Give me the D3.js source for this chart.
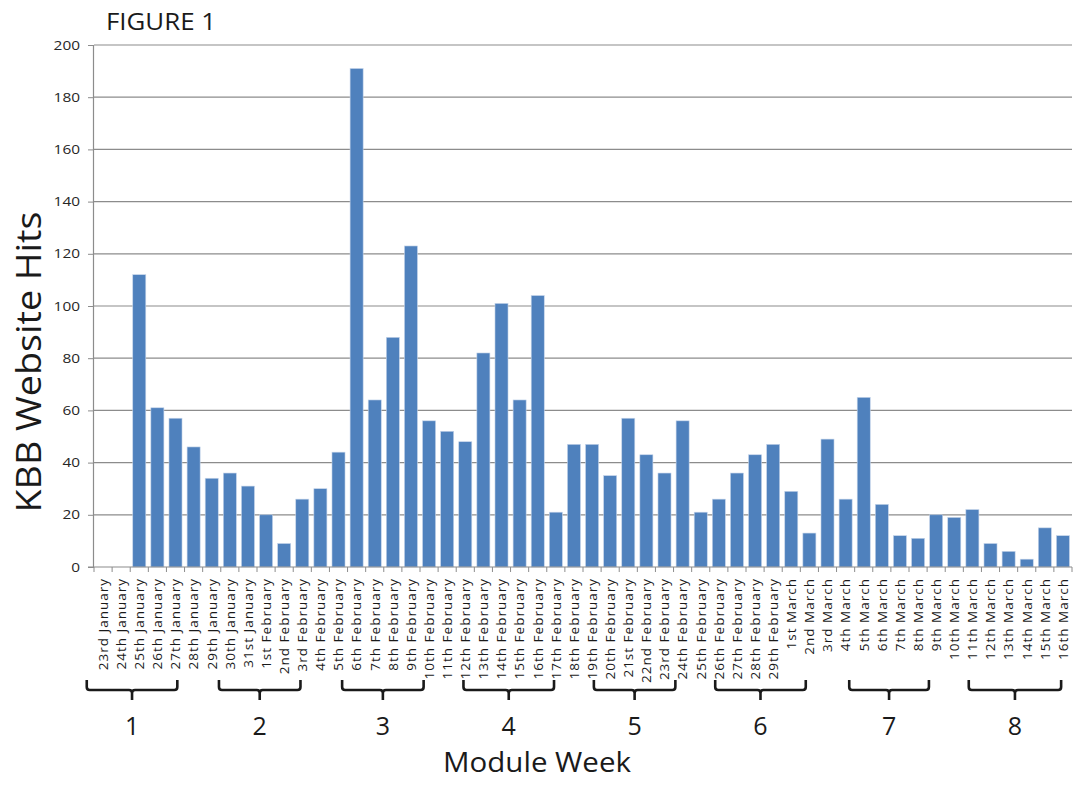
<!DOCTYPE html>
<html>
<head>
<meta charset="utf-8">
<script src="https://cdn.jsdelivr.net/npm/d3@7"></script>
<style>
    body { margin: 0; background: #fff; }
    svg text { font-family: "Open Sans", "DejaVu Sans", sans-serif; fill: #1a1a1a; }
</style>
</head>
<body>
<div id="chart"></div>
<script>
// daily hits, 23rd January to 16th March
var days = [
    "23rd January", "24th January", "25th January", "26th January", "27th January",
    "28th January", "29th January", "30th January", "31st January",
    "1st February", "2nd February", "3rd February", "4th February", "5th February",
    "6th February", "7th February", "8th February", "9th February", "10th February",
    "11th February", "12th February", "13th February", "14th February", "15th February",
    "16th February", "17th February", "18th February", "19th February", "20th February",
    "21st February", "22nd February", "23rd February", "24th February", "25th February",
    "26th February", "27th February", "28th February", "29th February",
    "1st March", "2nd March", "3rd March", "4th March", "5th March", "6th March",
    "7th March", "8th March", "9th March", "10th March", "11th March", "12th March",
    "13th March", "14th March", "15th March", "16th March"
];
var hits = [
    0, 0, 112, 61, 57, 46, 34, 36, 31,
    20, 9, 26, 30, 44, 191, 64, 88, 123, 56, 52, 48, 82, 101, 64, 104, 21, 47, 47,
    35, 57, 43, 36, 56, 21, 26, 36, 43, 47,
    29, 13, 49, 26, 65, 24, 12, 11, 20, 19, 22, 9, 6, 3, 15, 12
];
var yTicks = [0, 20, 40, 60, 80, 100, 120, 140, 160, 180, 200];

// module week brackets, spans given in day-index units as drawn
var weeks = ["1", "2", "3", "4", "5", "6", "7", "8"];
var weekFrom = [-0.9, 6.4, 13.2, 19.9, 27.1, 33.8, 41.2, 47.8];
var weekTo = [4.1, 10.9, 17.7, 24.9, 31.6, 38.8, 45.6, 52.9];

var width = 1076, height = 787;
var plotLeft = 94, plotRight = 1072, plotTop = 45, plotBottom = 567;

var svg = d3.select("#chart")
            .append("svg")
            .attr("width", width)
            .attr("height", height);

var x = d3.scaleBand()
          .domain(days)
          .range([plotLeft, plotRight])
          .paddingInner(0.28)
          .paddingOuter(0.14);
var step = x.step();

// day index -> pixel (centre of that day's slot)
var xi = d3.scaleLinear()
           .domain([0, days.length - 1])
           .range([plotLeft + step / 2, plotLeft + step / 2 + step * (days.length - 1)]);

var y = d3.scaleLinear()
          .domain([0, 200])
          .range([plotBottom, plotTop]);

// gridlines
svg.append("g")
   .selectAll("line")
   .data(yTicks.filter(d => d > 0))
   .join("line")
   .attr("x1", plotLeft)
   .attr("x2", plotRight)
   .attr("y1", d => y(d))
   .attr("y2", d => y(d))
   .attr("stroke", "#8c8c8c")
   .attr("stroke-width", 1.2);

// y axis
var yAxis = svg.append("g")
               .attr("transform", `translate(${plotLeft - 1},0)`)
               .call(d3.axisLeft(y).tickValues(yTicks).tickSize(5).tickPadding(8));
yAxis.select(".domain").attr("stroke", "#8c8c8c").attr("stroke-width", 1.2);
yAxis.selectAll(".tick line").attr("stroke", "#8c8c8c");
yAxis.selectAll(".tick text")
     .style("font-size", "13px")
     .style("fill", "#262626")
     .attr("textLength", function(d) { return String(d).length * 8.8; })
     .attr("lengthAdjust", "spacingAndGlyphs");

// bars
svg.append("g")
   .selectAll("rect")
   .data(hits)
   .join("rect")
   .attr("x", (d, i) => x(days[i]))
   .attr("width", x.bandwidth())
   .attr("y", d => y(d))
   .attr("height", d => y(0) - y(d))
   .attr("fill", "#4f81bd")
   .attr("stroke", "#c6d5ea")
   .attr("stroke-width", 0.6);

// x axis line and category ticks
svg.append("line")
   .attr("x1", plotLeft - 6)
   .attr("x2", plotRight)
   .attr("y1", plotBottom)
   .attr("y2", plotBottom)
   .attr("stroke", "#8c8c8c")
   .attr("stroke-width", 1.2);
svg.append("g")
   .selectAll("line")
   .data(d3.range(days.length + 1))
   .join("line")
   .attr("x1", i => plotLeft + i * step)
   .attr("x2", i => plotLeft + i * step)
   .attr("y1", plotBottom)
   .attr("y2", plotBottom + 5)
   .attr("stroke", "#8c8c8c");

// rotated day labels
svg.append("g")
   .selectAll("text")
   .data(days)
   .join("text")
   .attr("transform", d => `translate(${x(d) + x.bandwidth() / 2},${plotBottom + 11}) rotate(-90)`)
   .attr("dy", "0.36em")
   .attr("text-anchor", "end")
   .style("font-size", "13.5px")
   .style("letter-spacing", "1px")
   .text(d => d);

// module week brackets
var bTop = 680, bMid = 690, bTip = 700, r = 3;
weeks.forEach(function(w, k) {
    var x0 = xi(weekFrom[k]), x1 = xi(weekTo[k]), xm = (x0 + x1) / 2;
    var p = d3.path();
    p.moveTo(x0, bTop);
    p.lineTo(x0, bMid - r);
    p.quadraticCurveTo(x0, bMid, x0 + r, bMid);
    p.lineTo(xm - r, bMid);
    p.quadraticCurveTo(xm, bMid, xm, bMid + r);
    p.lineTo(xm, bTip);
    p.moveTo(xm, bMid + r);
    p.quadraticCurveTo(xm, bMid, xm + r, bMid);
    p.lineTo(x1 - r, bMid);
    p.quadraticCurveTo(x1, bMid, x1, bMid - r);
    p.lineTo(x1, bTop);
    svg.append("path")
       .attr("d", p.toString())
       .attr("fill", "none")
       .attr("stroke", "#1a1a1a")
       .attr("stroke-width", 2.6);
    svg.append("text")
       .attr("x", xm)
       .attr("y", 735)
       .attr("text-anchor", "middle")
       .style("font-size", "25px")
       .text(w);
});

// titles
svg.append("text")
   .attr("x", 106)
   .attr("y", 30)
   .style("font-size", "24px")
   .attr("textLength", 110)
   .attr("lengthAdjust", "spacingAndGlyphs")
   .text("FIGURE 1");

svg.append("text")
   .attr("x", 537)
   .attr("y", 772)
   .attr("text-anchor", "middle")
   .style("font-size", "27px")
   .attr("textLength", 188)
   .attr("lengthAdjust", "spacingAndGlyphs")
   .text("Module Week");

svg.append("text")
   .attr("transform", "translate(41,362) rotate(-90)")
   .attr("text-anchor", "middle")
   .style("font-size", "35px")
   .attr("textLength", 301)
   .attr("lengthAdjust", "spacingAndGlyphs")
   .text("KBB Website Hits");
</script>
</body>
</html>
